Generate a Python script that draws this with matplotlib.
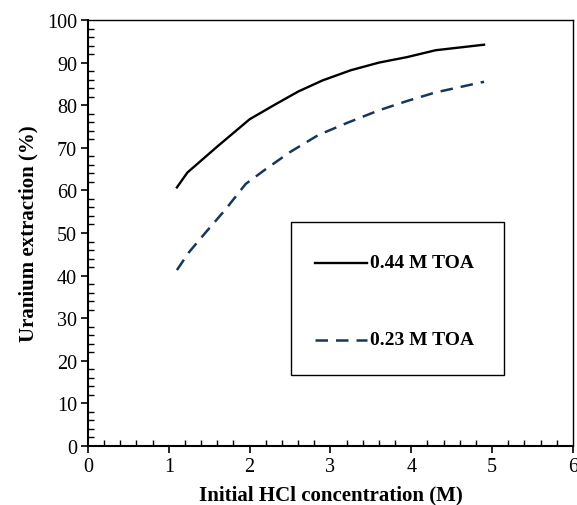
import matplotlib
matplotlib.use('Agg')
import matplotlib.pyplot as plt
from matplotlib.ticker import MultipleLocator
from matplotlib.patches import Rectangle
from matplotlib.lines import Line2D

plt.rcParams['font.family'] = ['Liberation Serif', 'DejaVu Serif']

# 0.44 M TOA
x_044 = [1.1, 1.23, 1.4, 1.6, 1.8, 2.0, 2.3, 2.6, 2.9, 3.25, 3.6, 3.95, 4.3, 4.9]
y_044 = [60.7, 64.2, 67.0, 70.3, 73.5, 76.7, 80.0, 83.2, 85.8, 88.2, 90.0, 91.3, 92.9, 94.2]

# 0.23 M TOA
x_023 = [1.1, 1.25, 1.45, 1.7, 1.95, 2.2, 2.5, 2.85, 3.2, 3.6, 3.95, 4.3, 4.9]
y_023 = [41.3, 45.5, 50.0, 55.5, 61.5, 65.0, 69.0, 73.0, 75.8, 78.8, 81.0, 83.0, 85.5]

fig = plt.figure(figsize=(5.77, 5.06), dpi=100)
ax = fig.add_axes([0.1525, 0.1166, 0.8405, 0.8419])

ax.plot(x_044, y_044, color='black', lw=1.7)
ax.plot(x_023, y_023, color='#17365D', lw=1.8, dashes=(5, 3.2))

ax.set_xlim(0, 6)
ax.set_ylim(0, 100)
ax.xaxis.set_major_locator(MultipleLocator(1))
ax.xaxis.set_minor_locator(MultipleLocator(0.2))
ax.yaxis.set_major_locator(MultipleLocator(10))
ax.yaxis.set_minor_locator(MultipleLocator(2))
ax.tick_params(which='major', direction='out', length=5, width=1.2, labelsize=14.5, pad=3)
ax.tick_params(which='minor', direction='in', length=4, width=1.0)
for s in ax.spines.values():
    s.set_linewidth(1.0)
ax.spines['left'].set_linewidth(1.5)
ax.spines['bottom'].set_linewidth(1.5)

ax.set_xlabel('Initial HCl concentration (M)', fontsize=15, fontweight='bold', labelpad=6)
ax.set_ylabel('Uranium extraction (%)', fontsize=15, fontweight='bold', labelpad=6)

# legend box drawn by hand
ax.add_patch(Rectangle((0.419, 0.167), 0.439, 0.358, transform=ax.transAxes,
                       facecolor='white', edgecolor='black', lw=1.0, zorder=5))
ax.add_line(Line2D([0.468, 0.576], [0.430, 0.430], transform=ax.transAxes,
                   color='black', lw=1.7, zorder=6))
ax.add_line(Line2D([0.468, 0.576], [0.249, 0.249], transform=ax.transAxes,
                   color='#17365D', lw=1.8, dashes=(5, 3.2), zorder=6))
ax.text(0.582, 0.430, '0.44 M TOA', transform=ax.transAxes, va='center',
        fontsize=14, fontweight='bold', zorder=6)
ax.text(0.582, 0.249, '0.23 M TOA', transform=ax.transAxes, va='center',
        fontsize=14, fontweight='bold', zorder=6)

fig.savefig('out.png', dpi=100)
